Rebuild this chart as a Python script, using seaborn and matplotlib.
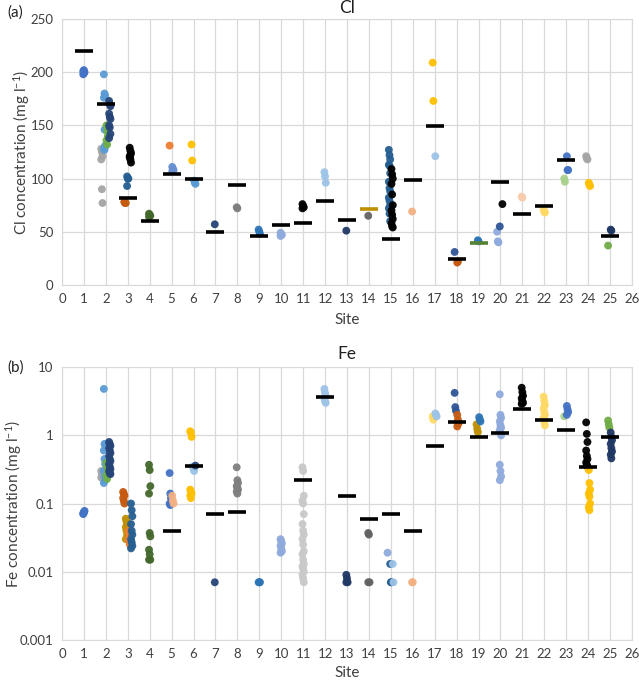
import numpy as np
import pandas as pd
import matplotlib
matplotlib.use("Agg")
import matplotlib.pyplot as plt
import seaborn as sns

# colours (Excel-like palette, one per sampling point group)
BLUE = "#4472C4"
LBLUE = "#5B9BD5"
NAVY = "#264478"
DNAVY = "#203864"
STEEL = "#2E75B6"
DBLUE = "#255E91"
PERI = "#8FAADC"
PALE = "#9DC3E6"
GREEN = "#70AD47"
LGREEN = "#A9D18E"
DGREEN = "#43682B"
GRAY = "#A5A5A5"
DGRAY = "#7F7F7F"
DDGRAY = "#636363"
LGRAY = "#C9C9C9"
BROWN = "#C55A11"
ORANGE = "#ED7D31"
PEACH = "#F4B183"
GOLD = "#FFC000"
LGOLD = "#FFD966"
OLIVE = "#BF9000"
BLACK = "#000000"

sites = list(range(1, 26))

# Cl (mg/l): per site, list of (colour, values)
cl_points = {
    1: [(BLUE, [198, 199, 200, 201, 202])],
    2: [(GRAY, [128, 125, 121, 118, 90, 77]),
        (LBLUE, [198, 180, 178, 176, 146, 131, 128, 127, 130]),
        (GREEN, [150, 145, 140, 136, 132]),
        (NAVY, [173, 170, 168, 161, 158, 156, 150, 148, 142, 138])],
    3: [(BROWN, [78, 77, 77, 78]),
        (DBLUE, [102, 100, 100, 93]),
        (BLACK, [129, 126, 124, 121, 118, 115, 120, 122])],
    4: [(DGREEN, [67, 66, 65, 64])],
    5: [(ORANGE, [131]), ("#698ED0", [111, 109, 108, 107])],
    6: [(GOLD, [132, 117]), (LBLUE, [98, 96, 95])],
    7: [(NAVY, [57])],
    8: [(DGRAY, [73, 72])],
    9: [(STEEL, [52, 50, 48])],
    10: [(PERI, [49, 48, 47, 46])],
    11: [(BLACK, [76, 74, 73, 72])],
    12: [(PALE, [106, 102, 96])],
    13: [(DNAVY, [51])],
    14: [(DDGRAY, [65])],
    15: [(DBLUE, [127, 122, 118, 113, 112, 105, 97, 91, 88, 82, 79, 75, 72, 67, 60]),
         (BLACK, [109, 104, 100, 95, 85, 75, 70, 66, 62, 58, 55, 54])],
    16: [(PEACH, [69])],
    17: [(GOLD, [209, 173]), (PALE, [121])],
    18: [("#2F5597", [31]), (BROWN, [21, 22])],
    19: [(STEEL, [42, 41])],
    20: [(PERI, [50, 41, 40]), ("#2F5597", [55]), (BLACK, [76])],
    21: [("#F8CBAD", [83, 82])],
    22: [(LGOLD, [71, 69, 68])],
    23: [(LGREEN, [100, 97]), (BLUE, [121, 108, 108])],
    24: [(GRAY, [121, 119, 118]), (GOLD, [96, 94, 93])],
    25: [(GREEN, [37]), (DNAVY, [52, 51])],
}
cl_bar_sites = [1, 2, 3, 4, 5, 6, 7, 8, 9, 10, 11, 12, 13, 14, 15, 16, 17, 18, 19, 20, 21, 22, 23, 25]
cl_bar_vals = [220, 170, 82, 60, 104, 100, 50, 94, 46, 56, 58, 79, 61, 71, 43, 99, 149, 24, 39, 97, 67, 74, 117, 46]
cl_bar_cols = [BLACK] * 13 + [OLIVE] + [BLACK] * 4 + ["#548235"] + [BLACK] * 5

# Fe (mg/l)
fe_points = {
    1: [(BLUE, [0.072, 0.075, 0.078, 0.07, 0.074])],
    2: [(GRAY, [0.3, 0.27, 0.25, 0.24]),
        (LBLUE, [4.8, 0.75, 0.7, 0.6, 0.45, 0.38, 0.3, 0.25, 0.22, 0.2]),
        (GREEN, [0.4, 0.35, 0.3, 0.26, 0.23]),
        (NAVY, [0.8, 0.75, 0.7, 0.65, 0.6, 0.55, 0.5, 0.45, 0.42, 0.38, 0.35, 0.32, 0.3, 0.28, 0.27])],
    3: [(BROWN, [0.148, 0.14, 0.13, 0.12, 0.11, 0.1]),
        (OLIVE, [0.06, 0.055, 0.05, 0.045, 0.04, 0.035, 0.03]),
        (ORANGE, [0.04, 0.036, 0.033, 0.03, 0.028, 0.025]),
        (DBLUE, [0.1, 0.08, 0.065, 0.05, 0.04, 0.035, 0.03, 0.027, 0.024, 0.022])],
    4: [(DGREEN, [0.37, 0.31, 0.18, 0.14, 0.037, 0.033, 0.021, 0.018, 0.015, 0.015])],
    5: [(BLUE, [0.28, 0.14, 0.12, 0.1, 0.095]), (PEACH, [0.13, 0.11, 0.1])],
    6: [(GOLD, [1.15, 1.1, 0.95, 0.16, 0.15, 0.14, 0.13, 0.12]),
        (PALE, [0.35, 0.32, 0.3]), (NAVY, [0.36])],
    7: [(NAVY, [0.007])],
    8: [(DGRAY, [0.34, 0.22, 0.2, 0.18, 0.17, 0.16, 0.15, 0.14])],
    9: [(STEEL, [0.007, 0.007, 0.007])],
    10: [(PERI, [0.03, 0.028, 0.026, 0.024, 0.022, 0.02, 0.019])],
    11: [(LGRAY, [0.34, 0.3, 0.13, 0.11, 0.1, 0.07, 0.05, 0.04, 0.035, 0.03, 0.025,
                  0.02, 0.018, 0.015, 0.013, 0.012, 0.011, 0.01, 0.009, 0.008, 0.007])],
    12: [(PALE, [4.8, 4.2, 3.8, 3.5, 3.2, 3.0])],
    13: [(DNAVY, [0.009, 0.008, 0.007, 0.007])],
    14: [(DDGRAY, [0.037, 0.035, 0.007, 0.007])],
    15: [(PERI, [0.019]), (DBLUE, [0.013, 0.007, 0.007]), (PALE, [0.013, 0.007])],
    16: [(PEACH, [0.007, 0.007])],
    17: [(LGOLD, [1.9, 1.7]), (PALE, [2.1, 2.0, 1.9])],
    18: [("#2F5597", [4.2, 2.6, 2.3]), (BROWN, [2.0, 1.7, 1.5, 1.35])],
    19: [(OLIVE, [1.45, 1.25, 1.12]), (STEEL, [1.85, 1.7, 1.6])],
    20: [(PERI, [4.0, 2.0, 1.8, 1.6, 1.4, 1.3, 1.2, 1.1, 1.0, 0.37, 0.3, 0.25, 0.22])],
    21: [(BLACK, [5.0, 4.3, 3.8, 3.5, 3.2, 3.0, 2.9])],
    22: [(LGOLD, [3.7, 3.2, 2.8, 2.5, 2.2, 2.0, 1.8, 1.6, 1.4])],
    23: [(LGREEN, [1.9]), (BLUE, [2.7, 2.4, 2.2, 2.0])],
    24: [(BLACK, [1.55, 1.05, 0.8, 0.6, 0.5, 0.45, 0.4, 0.37, 0.35]),
         (GOLD, [0.31, 0.2, 0.16, 0.14, 0.126, 0.1, 0.089, 0.08])],
    25: [(GREEN, [1.65, 1.45, 1.3]), (DNAVY, [1.1, 0.95, 0.85, 0.75, 0.65, 0.58, 0.52, 0.46])],
}
fe_bar_sites = [5, 6, 7, 8, 11, 12, 13, 14, 15, 16, 17, 18, 19, 20, 21, 22, 23, 24, 25]
fe_bar_vals = [0.04, 0.36, 0.07, 0.075, 0.22, 3.6, 0.13, 0.06, 0.07, 0.04, 0.7, 1.58, 0.95,
               1.07, 2.43, 1.67, 1.2, 0.34, 0.95]

fe_ticks = [0.001, 0.01, 0.1, 1, 10]
fe_tick_labels = ["0.001", "0.01", "0.1", "1", "10"]


def to_frame(points):
    rows = []
    for site, groups in points.items():
        n = len(groups)
        for i, (col, vals) in enumerate(groups):
            shift = (i - (n - 1) / 2) * 0.12
            for k, v in enumerate(vals):
                rows.append({"x": site + shift + ((k % 3) - 1) * 0.03, "value": v, "colour": col})
    return pd.DataFrame(rows)


sns.set_style("white")
plt.rcParams["font.family"] = ["Lato", "DejaVu Sans"]
plt.rcParams["mathtext.default"] = "regular"

fig = plt.figure(figsize=(6.39, 6.80), dpi=100)
ax1 = fig.add_axes([0.097, 0.581, 0.892, 0.391])
ax2 = fig.add_axes([0.097, 0.059, 0.892, 0.401])

grid_col = "#D9D9D9"
text_col = "#404040"


def draw(ax, points, bar_x, bar_y, bar_c):
    df = to_frame(points)
    cols = df["colour"].unique()
    sns.scatterplot(data=df, x="x", y="value", hue="colour", palette={c: c for c in cols},
                    s=32, edgecolor="none", alpha=0.95, legend=False, ax=ax, zorder=3)
    bars = pd.DataFrame({"x": bar_x, "value": bar_y, "c": bar_c})
    for c, sub in bars.groupby("c"):
        ax.scatter(sub["x"], sub["value"], marker="_", s=150, linewidths=2.6, color=c, zorder=4)
    ax.set_xlim(0, 26)
    ax.set_xticks(range(0, 27))
    ax.grid(True, color=grid_col, linewidth=0.9)
    ax.set_axisbelow(True)
    for sp in ax.spines.values():
        sp.set_color(grid_col)
    ax.tick_params(length=0, labelsize=9.5, colors=text_col, pad=6)
    ax.set_xlabel("Site", fontsize=11, color=text_col)


draw(ax1, cl_points, cl_bar_sites, cl_bar_vals, cl_bar_cols)
ax1.set_ylim(0, 250)
ax1.set_yticks(range(0, 251, 50))
ax1.set_ylabel(r"Cl concentration (mg l$^{-1}$)", fontsize=11, color=text_col)
ax1.yaxis.set_label_coords(-0.053, 0.5)
ax1.xaxis.set_label_coords(0.5, -0.105)
ax1.set_title("Cl", fontsize=12.5, color="#202020", pad=4)

draw(ax2, fe_points, fe_bar_sites, fe_bar_vals, [BLACK] * len(fe_bar_sites))
ax2.set_yscale("log")
ax2.set_ylim(0.001, 10)
ax2.set_yticks(fe_ticks)
ax2.set_yticklabels(fe_tick_labels)
ax2.minorticks_off()
ax2.set_ylabel(r"Fe concentration (mg l$^{-1}$)", fontsize=11, color=text_col)
ax2.yaxis.set_label_coords(-0.066, 0.5)
ax2.xaxis.set_label_coords(0.5, -0.097)
ax2.set_title("Fe", fontsize=12.5, color="#202020", pad=6)

fig.text(0.012, 0.982, "(a)", fontsize=11, color="#202020", va="center")
fig.text(0.012, 0.46, "(b)", fontsize=11, color="#202020", va="center")

fig.savefig("out.png", dpi=100)
